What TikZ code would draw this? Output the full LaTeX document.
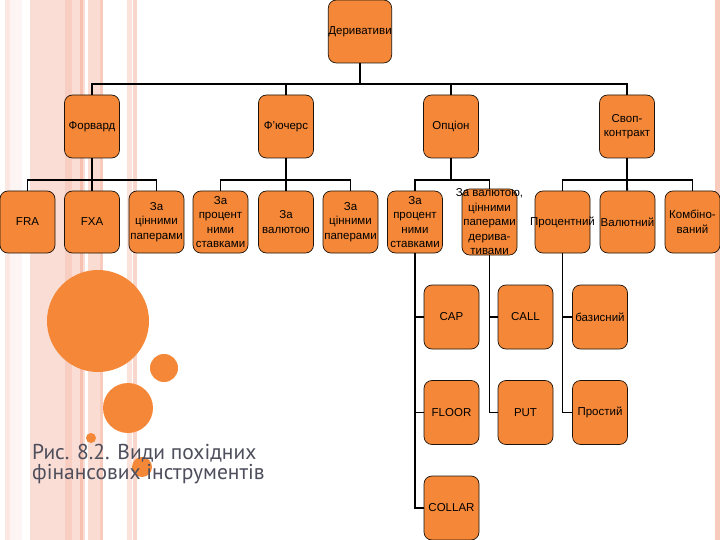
\documentclass[tikz,border=0pt]{standalone}
\usepackage{fontspec}
\setmainfont{Liberation Sans}
\newfontfamily\capfont{PT Sans}
\definecolor{boxor}{RGB}{245,136,56}
\definecolor{stripe}{RGB}{240,140,110}
\definecolor{captxt}{RGB}{78,78,92}
\newcommand{\wl}[1]{\makebox[0pt][c]{#1}}

\begin{document}
\begin{tikzpicture}[x=1pt, y=-1pt,
	box/.style = {draw=black!85!brown, line width=0.7pt, fill=boxor, rounded corners=8pt,
		minimum width=55pt, minimum height=63pt, inner sep=0pt, align=center,
		font=\fontsize{11.5}{14.5}\selectfont},
	conn/.style = {line width=1.8pt, black}]
	\useasboundingbox (0,0) rectangle (720,540);
	\fill[white] (0,0) rectangle (720,540);
	% Tausta
	\foreach \a/\b/\o in {5/10/0.2, 10/22/0.08, 30/65/0.28, 65/72/0.42, 72/85/0.28,
		80/83/0.35, 88/100/0.3, 100/103/0.45, 127/132/0.25, 133/137/0.35}
		\fill[stripe, opacity=\o] (\a,0) rectangle (\b,540);
	\fill[stripe, opacity=0.45] (715,0) rectangle (720,540);
	% Ympyrat
	\fill[boxor] (98,321) circle (51pt);
	\fill[boxor] (164,368) circle (14pt);
	\fill[boxor] (128,408) circle (25pt);
	\fill[boxor] (91,438) circle (5pt);
	\fill[boxor] (142,467) circle (10pt);
	\node[anchor=north west, inner sep=0pt, align=left, text=captxt,
		font=\capfont\fontsize{21.5}{20}\selectfont] (title) at (32,444)
		{Рис. 8.2. Види похідних\\фінансових інструментів};
	% Solmut
	\node[box] (der) at (360,31.5) {Деривативи};
	\node[box] (forw) at (92,126.5) {Форвард};
	\node[box] (fut) at (286,126.5) {Ф'ючерс};
	\node[box] (opt) at (451,126.5) {Опціон};
	\node[box] (swap) at (627,126.5) {Своп-\\контракт};
	\node[box, minimum height=62pt] (fra) at (27.5,222) {FRA};
	\node[box, minimum height=62pt] (fxa) at (92,222) {FXA};
	\node[box, minimum height=62pt] (fwsec) at (156.5,222) {За\\цінними\\паперами};
	\node[box, minimum height=62pt] (futrate) at (220.5,222) {За\\процент\\ними\\ставками};
	\node[box, minimum height=62pt] (futcur) at (286,222) {За\\валютою};
	\node[box, minimum height=62pt] (futsec) at (350.5,222) {За\\цінними\\паперами};
	\node[box, minimum height=62pt] (optrate) at (415,222) {За\\процент\\ними\\ставками};
	\node[box, minimum height=62pt] (optmix) at (489.5,222) {\wl{За валютою,}\\цінними\\паперами\\дерива-\\тивами};
	\node[box, minimum height=62pt] (swrate) at (562.5,222) {\wl{Процентний}};
	\node[box, minimum height=62pt] (swcur) at (627.5,222) {Валютний};
	\node[box, minimum height=62pt] (swcomb) at (692.5,222) {Комбіно-\\ваний};
	\node[box, minimum height=64pt] (cap) at (451.5,317) {CAP};
	\node[box, minimum height=64pt] (floor) at (451.5,412.5) {FLOOR};
	\node[box, minimum height=64pt] (collar) at (451.5,508) {COLLAR};
	\node[box, minimum height=64pt] (call) at (525.5,317) {CALL};
	\node[box, minimum height=64pt] (put) at (525.5,412.5) {PUT};
	\node[box, minimum height=64pt] (basic) at (600,317) {базисний};
	\node[box, minimum height=64pt] (plain) at (600,412.5) {Простий};
	% Janat
	\coordinate (b0) at (360,84);
	\draw[conn] (der) -- (b0);
	\draw[conn] (b0) -| (forw);
	\draw[conn] (b0) -| (fut);
	\draw[conn] (b0) -| (opt);
	\draw[conn] (b0) -| (swap);
	\coordinate (bf) at (92,180);
	\draw[conn] (forw) -- (bf);
	\draw[conn] (bf) -| (fra);
	\draw[conn] (bf) -- (fxa);
	\draw[conn] (bf) -| (fwsec);
	\coordinate (bu) at (286,180);
	\draw[conn] (fut) -- (bu);
	\draw[conn] (bu) -| (futrate);
	\draw[conn] (bu) -- (futcur);
	\draw[conn] (bu) -| (futsec);
	\coordinate (bo) at (451,180);
	\draw[conn] (opt) -- (bo);
	\draw[conn] (bo) -| (optrate);
	\draw[conn] (bo) -| (optmix);
	\coordinate (bs) at (627,180);
	\draw[conn] (swap) -- (bs);
	\draw[conn] (bs) -| (swrate);
	\draw[conn] (bs) -- (swcur);
	\draw[conn] (bs) -| (swcomb);
	\draw[conn] (optrate) |- (cap);
	\draw[conn] (optrate) |- (floor);
	\draw[conn] (optrate) |- (collar);
	\draw[conn] (optmix) |- (call);
	\draw[conn] (optmix) |- (put);
	\draw[conn] (swrate) |- (basic);
	\draw[conn] (swrate) |- (plain);
\end{tikzpicture}
\end{document}
